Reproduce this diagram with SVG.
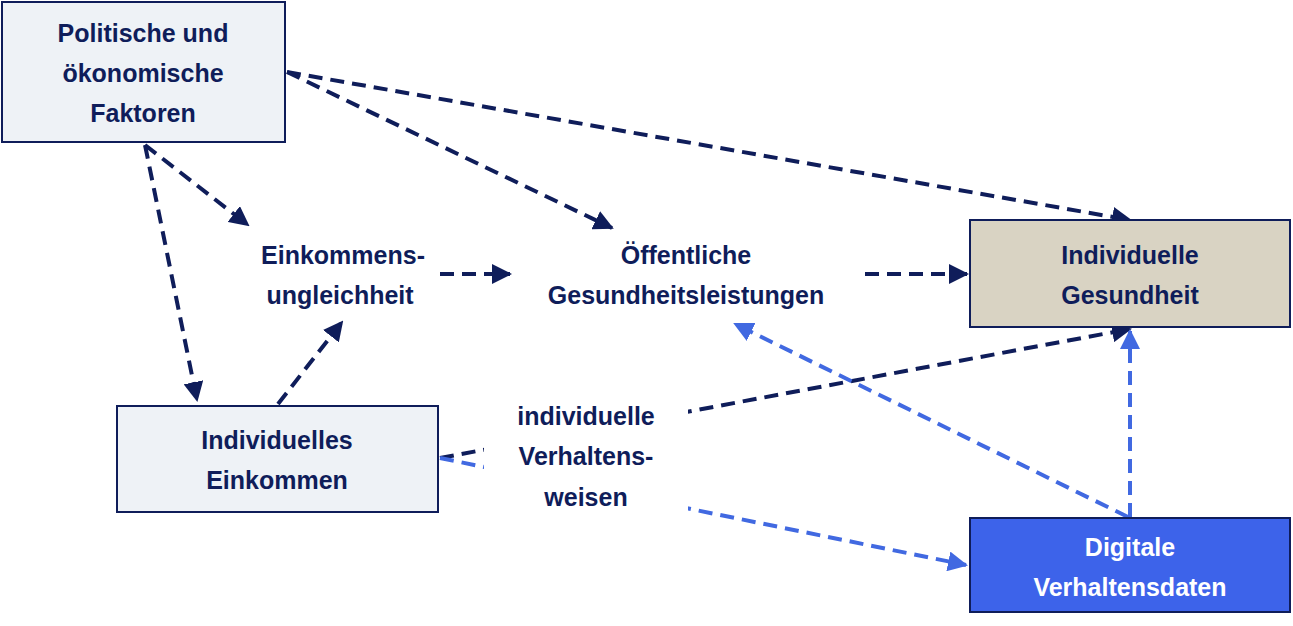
<svg xmlns="http://www.w3.org/2000/svg" width="1293" height="626" viewBox="0 0 1293 626">
<defs>
<style>
.t{font-family:"Liberation Sans",Arial,sans-serif;font-weight:bold;font-size:25px;fill:#0f1d5a;text-anchor:middle}
.tw{fill:#ffffff}
.d{stroke:#0f1d5a;stroke-width:4;stroke-dasharray:14 8;fill:none}
.b{stroke:#4169e1;stroke-width:4;stroke-dasharray:14 8;fill:none}
.box{stroke:#0f1d5a;stroke-width:2}
</style>
<marker id="ad" viewBox="0 0 10 10" refX="9" refY="5" markerWidth="5" markerHeight="5" orient="auto" markerUnits="strokeWidth"><path d="M0,0L10,5L0,10z" fill="#0f1d5a"/></marker>
<marker id="ab" viewBox="0 0 10 10" refX="9" refY="5" markerWidth="5" markerHeight="5" orient="auto" markerUnits="strokeWidth"><path d="M0,0L10,5L0,10z" fill="#4169e1"/></marker>
</defs>
<rect width="1293" height="626" fill="#fff"/>
<g id="connectors">
<path class="d" d="M287,72L1130,220" marker-end="url(#ad)"/>
<path class="d" d="M287,72L612,228" marker-end="url(#ad)"/>
<path class="d" d="M145,145L248,225" marker-end="url(#ad)"/>
<path class="d" d="M145,145L197,400" marker-end="url(#ad)"/>
<path class="d" d="M440,274L510,274" marker-end="url(#ad)"/>
<path class="d" d="M865,274L967,274" marker-end="url(#ad)"/>
<path class="d" d="M278,404L342,322" marker-end="url(#ad)"/>
<path class="d" d="M440,458L1130,329" marker-end="url(#ad)"/>
<path class="b" d="M440,458L966,565" marker-end="url(#ab)"/>
<path class="b" d="M1130,517L1130,331" marker-end="url(#ab)"/>
<path class="b" d="M1128,517L735,324" marker-end="url(#ab)"/>
<rect x="484" y="392" width="204" height="128" fill="#fff"/>
</g>
<g id="n-politische"><rect class="box" x="2" y="2" width="283" height="140" fill="#eef2f6"/>
<text class="t" x="143" y="42">Politische und</text><text class="t" x="143" y="82">ökonomische</text><text class="t" x="143" y="122">Faktoren</text></g>
<g id="n-ungleichheit"><text class="t" x="343" y="264">Einkommens-</text><text class="t" x="340" y="304">ungleichheit</text></g>
<g id="n-oeffentlich"><text class="t" x="686" y="264">Öffentliche</text><text class="t" x="686" y="304">Gesundheitsleistungen</text></g>
<g id="n-gesundheit"><rect class="box" x="970" y="220" width="320" height="107" fill="#d9d3c3"/>
<text class="t" x="1130" y="264">Individuelle</text><text class="t" x="1130" y="304">Gesundheit</text></g>
<g id="n-einkommen"><rect class="box" x="117" y="406" width="321" height="106" fill="#eef2f6"/>
<text class="t" x="277" y="449">Individuelles</text><text class="t" x="277" y="489">Einkommen</text></g>
<g id="n-verhalten"><text class="t" x="586" y="425">individuelle</text><text class="t" x="586" y="465">Verhaltens-</text><text class="t" x="586" y="506">weisen</text></g>
<g id="n-digital"><rect class="box" x="970" y="518" width="320" height="94" fill="#3d63ea"/>
<text class="t tw" x="1130" y="556">Digitale</text><text class="t tw" x="1130" y="596">Verhaltensdaten</text></g>
</svg>
